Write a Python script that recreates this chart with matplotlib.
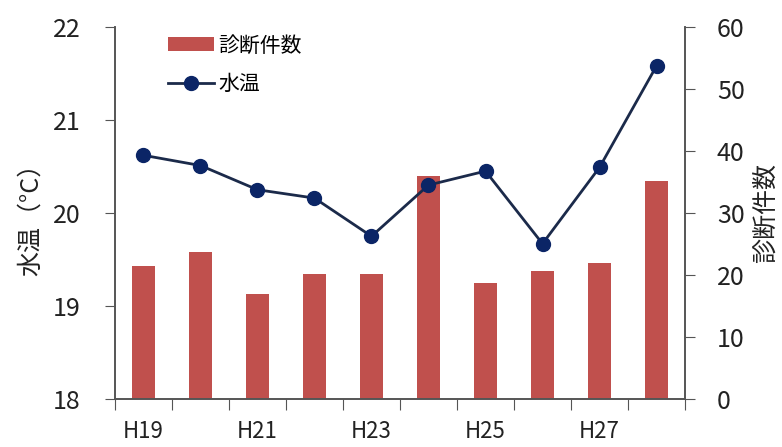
import matplotlib
matplotlib.use("Agg")
import matplotlib.pyplot as plt
import numpy as np

plt.rcParams['font.family'] = ['Noto Sans CJK JP', 'DejaVu Sans']

years = ["H19", "H20", "H21", "H22", "H23", "H24", "H25", "H26", "H27", "H28"]
cases = [21.5, 23.7, 16.9, 20.1, 20.1, 36.0, 18.7, 20.7, 21.9, 35.2]
temps = [20.62, 20.51, 20.25, 20.16, 19.75, 20.30, 20.45, 19.67, 20.49, 21.58]
shown_labels = ["H19", "", "H21", "", "H23", "", "H25", "", "H27", ""]

x = np.arange(len(years))

fig = plt.figure(figsize=(7.82, 4.47), dpi=100)
ax = fig.add_axes([0.147, 0.107, 0.729, 0.833])
ax2 = ax.twinx()

# bars on the right axis, drawn behind the line
bars = ax2.bar(x, cases, width=0.4, color="#C0504D", label="診断件数", zorder=1)
ax2.set_ylim(0, 60)
ax2.set_yticks(range(0, 61, 10))

ax.set_zorder(ax2.get_zorder() + 1)
ax.patch.set_visible(False)
line, = ax.plot(x, temps, color="#1B2A4A", lw=2, marker="o", ms=10,
                mfc="#0B2566", mec="#0B2566", label="水温")
ax.set_ylim(18, 22)
ax.set_yticks([18, 19, 20, 21, 22])
ax.set_xlim(-0.5, len(years) - 0.5)

# category ticks between bars, labels every other year
ax.set_xticks(np.arange(-0.5, len(years) + 0.5, 1))
ax.set_xticklabels([])
ax.set_xticks(x, minor=True)
ax.set_xticklabels(shown_labels, minor=True)
ax.tick_params(axis="x", which="major", direction="out", length=8, color="#555555")
ax.tick_params(axis="x", which="minor", length=0, pad=15, labelsize=16, labelcolor="#222222")
ax.tick_params(axis="y", direction="out", length=7, color="#555555", labelsize=18,
               labelcolor="#222222", pad=18)
ax2.tick_params(axis="y", direction="out", length=7, color="#555555", labelsize=18,
                labelcolor="#222222", pad=16)

for a in (ax, ax2):
    a.spines["top"].set_visible(False)
    for s in ("left", "right", "bottom"):
        a.spines[s].set_color("#555555")
        a.spines[s].set_linewidth(1.2)

ax.set_ylabel("水温（°C）", fontsize=18, color="#222222", labelpad=6)
ax2.set_ylabel("診断件数", fontsize=18, color="#222222", labelpad=6)

ax.legend([bars, line], ["診断件数", "水温"], loc="upper left",
          bbox_to_anchor=(0.06, 1.03), frameon=False, fontsize=15,
          handlelength=2.2, handletextpad=0.2, labelspacing=0.8)

fig.savefig("out.png", dpi=100)
